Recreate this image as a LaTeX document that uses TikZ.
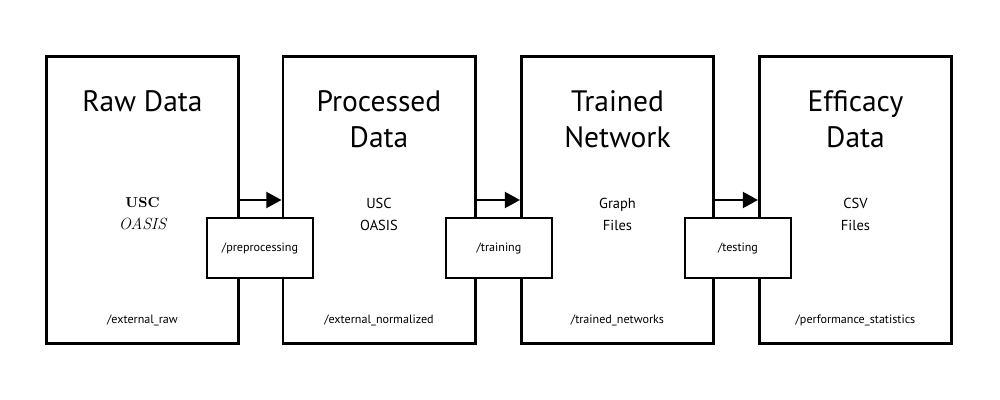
\documentclass[tikz,border=0pt]{standalone}
\usepackage{fontspec}
\setmainfont{PT Sans}
\newfontfamily\oldface{Latin Modern Roman}
\usetikzlibrary{arrows.meta}

\begin{document}
\begin{tikzpicture}[x = 0.025cm, y = -0.025cm]
\tikzstyle{StageStyle}=[shape = rectangle,
                         draw, line width = 2.1pt,
                         minimum width = 4.8cm,
                         minimum height = 7.175cm,
                         inner sep = 0pt]
\tikzstyle{TitleStyle}=[align = center, font = \fontsize{21}{25.6}\selectfont]
\tikzstyle{ContentStyle}=[align = center, font = \fontsize{10.3}{15.6}\selectfont]
\tikzstyle{DirStyle}=[font = \fontsize{8.6}{10}\selectfont]
\tikzstyle{ScriptStyle}=[shape = rectangle, draw, fill = white,
                         line width = 1.5pt,
                         minimum width = 2.65cm,
                         minimum height = 1.5cm,
                         font = \fontsize{8.6}{10}\selectfont]
\tikzstyle{FlowStyle}=[line width = 1.5pt, -{Triangle[length = 0.38cm, width = 0.4cm]}]
\useasboundingbox (0, 0) rectangle (1000, 400);
% stages
\node[StageStyle] (raw)  at (142.5, 200) {};
\node[StageStyle] (proc) at (379, 200) {};
\node[StageStyle] (net)  at (617.5, 200) {};
\node[StageStyle] (eff)  at (855.5, 200) {};
% titles
\node[TitleStyle] (rawT)  at (142.5, 101) {Raw Data};
\node[TitleStyle] (procT) at (379, 119) {Processed\\Data};
\node[TitleStyle] (netT)  at (617.5, 119) {Trained\\Network};
\node[TitleStyle] (effT)  at (855.5, 119) {Efficacy\\Data};
% contents
\node[ContentStyle] (rawC)  at (142.5, 214) {\oldface\bfseries USC\\\oldface\itshape\fontsize{11.5}{15.6}\selectfont OASIS};
\node[ContentStyle] (procC) at (379, 214) {USC\\OASIS};
\node[ContentStyle] (netC)  at (617.5, 214) {Graph\\Files};
\node[ContentStyle] (effC)  at (855.5, 214) {CSV\\Files};
% directories
\node[DirStyle] (rawD)  at (142.5, 320) {/external\_raw};
\node[DirStyle] (procD) at (379, 320) {/external\_normalized};
\node[DirStyle] (netD)  at (617.5, 320) {/trained\_networks};
\node[DirStyle] (effD)  at (855.5, 320) {/performance\_statistics};
% flow
\draw[FlowStyle] (raw) -- (proc);
\draw[FlowStyle] (proc) -- (net);
\draw[FlowStyle] (net) -- (eff);
% scripts
\node[ScriptStyle] (pre)   at (260, 248) {/preprocessing};
\node[ScriptStyle] (train) at (499, 248) {/training};
\node[ScriptStyle] (test)  at (738, 248) {/testing};
\end{tikzpicture}
\end{document}
